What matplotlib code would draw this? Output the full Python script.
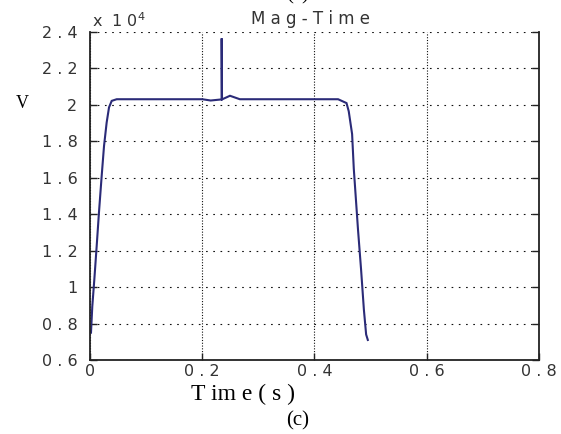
"""
Mag-Time plot, MATLAB-style (panel (c)).
Output: out.png
"""

import matplotlib
matplotlib.use("Agg")
import matplotlib.pyplot as plt
from matplotlib.ticker import FixedLocator, FuncFormatter

# ── Data, magnitude in units of 1e4 V ───────────────────────────────────────
time_s = [0.0018, 0.0041, 0.0077, 0.0119, 0.0160, 0.0208, 0.0250, 0.0297,
          0.0339, 0.0387, 0.0476, 0.2000, 0.2150, 0.2346, 0.2346, 0.2352,
          0.2494, 0.2670, 0.4420, 0.4570, 0.4610, 0.4670, 0.4700, 0.4775,
          0.4830, 0.4880, 0.4920, 0.4950]
mag_e4 = [0.750, 0.894, 1.040, 1.224, 1.410, 1.609, 1.774, 1.903,
          1.986, 2.022, 2.031, 2.031, 2.024, 2.030, 2.365, 2.030,
          2.050, 2.031, 2.031, 2.010, 1.965, 1.840, 1.650, 1.316,
          1.096, 0.876, 0.740, 0.710]

x_ticks = [0, 0.2, 0.4, 0.6, 0.8]
y_ticks = [0.6, 0.8, 1.0, 1.2, 1.4, 1.6, 1.8, 2.0, 2.2, 2.4]

# ── Figure ───────────────────────────────────────────────────────────────────
fig = plt.figure(figsize=(5.61, 4.34), dpi=100, facecolor="white")
ax = fig.add_axes([0.1604, 0.1705, 0.8004, 0.7558])

ax.plot(time_s, mag_e4, color="#2b2b78", lw=1.5, solid_joinstyle="miter")

ax.set_xlim(0, 0.8)
ax.set_ylim(0.6, 2.4)
ax.xaxis.set_major_locator(FixedLocator(x_ticks))
ax.yaxis.set_major_locator(FixedLocator(y_ticks))


def spaced(v, pos):
    # MATLAB's tick font is very wide; spread the characters out
    return " ".join("%g" % v)


ax.xaxis.set_major_formatter(FuncFormatter(spaced))
ax.yaxis.set_major_formatter(FuncFormatter(spaced))

ax.tick_params(direction="in", length=5, width=1, colors="#222222",
               labelsize=11.5, labelcolor="#333333", right=True, top=False)
ax.tick_params(axis="y", pad=9)
ax.tick_params(axis="x", pad=3)

ax.xaxis.grid(True, color="#111111", linestyle=(0, (1, 1.5)), linewidth=0.8)
ax.yaxis.grid(True, color="#111111", linestyle=(0, (1.5, 5)), linewidth=0.8)

for side in ["left", "bottom", "right"]:
    ax.spines[side].set_linewidth(1.3)
    ax.spines[side].set_color("#222222")
ax.spines["top"].set_visible(False)

# ── Texts ────────────────────────────────────────────────────────────────────
fig.text(0.164, 0.953, r"x  1 0$^{4}$", fontsize=11.5, color="#333333",
         ha="left", va="center")
fig.text(0.553, 0.956, "M a g - T i m e", fontsize=12, color="#333333",
         ha="center", va="center")
fig.text(0.04, 0.762, "V", fontsize=13, family="Liberation Serif",
         ha="center", va="center")
fig.text(0.433, 0.09, "T im e ( s )", fontsize=17, family="Liberation Serif",
         ha="center", va="center")
fig.text(0.531, 0.03, "(c)", fontsize=15, family="Liberation Serif",
         ha="center", va="center")
fig.text(0.53, 1.012, "(c)", fontsize=15, family="Liberation Serif",
         ha="center", va="center")

fig.savefig("out.png", dpi=100, facecolor="white")
